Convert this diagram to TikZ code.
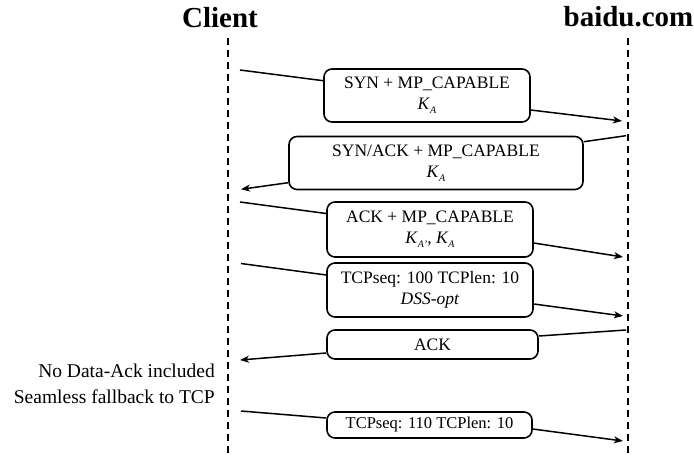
\documentclass[tikz,border=0pt]{standalone}
\usepackage{fontspec}
\setmainfont{Liberation Serif}
\usetikzlibrary{arrows.meta}
\newcommand{\subA}[1]{\raisebox{-0.5ex}{\fontsize{10}{10}\selectfont\textit{#1}}}
\newcommand{\KA}{\textit{K}\subA{A}}
\begin{document}
\begin{tikzpicture}[x=1pt,y=-1pt,
  msgbox/.style={draw,line width=1.6pt,rounded corners=8pt,inner sep=0pt,align=center,
    font=\fontsize{17.5}{22}\selectfont},
  msgline/.style={line width=1.5pt},
  msgarrow/.style={line width=1.5pt,-{Stealth[length=9pt,width=7pt,inset=2.5pt]}},
  life/.style={line width=1.8pt,dash pattern=on 7pt off 5pt},
  title/.style={font=\fontsize{29}{34}\selectfont\bfseries,anchor=base,inner sep=0pt},
  note/.style={font=\fontsize{19.5}{24}\selectfont,anchor=base east,inner sep=0pt}]
\path[use as bounding box] (0,0) rectangle (694,456);

% titles
\node[title] (client) at (220,27) {Client};
\node[title] (server) at (628.5,26.5) {baidu.com};

% lifelines
\coordinate (cTop) at (228,38);
\coordinate (cBot) at (228,456);
\coordinate (sTop) at (628,38);
\coordinate (sBot) at (628,456);
\draw[life] (cTop) -- (cBot);
\draw[life] (sTop) -- (sBot);

% boxes
\node[msgbox,minimum width=206pt,minimum height=53pt] (b1) at (427,95.5)
  {SYN + MP\_CAPABLE\\[-1pt]\KA};
\node[msgbox,minimum width=294pt,minimum height=53pt] (b2) at (436,163)
  {SYN/ACK + MP\_CAPABLE\\[-1pt]\KA};
\node[msgbox,minimum width=206pt,minimum height=55pt] (b3) at (430,229.5)
  {ACK + MP\_CAPABLE\\[-1pt]\textit{K}\subA{A}\subA{'}, \KA};
\node[msgbox,minimum width=206pt,minimum height=54pt] (b4) at (430,290)
  {TCPseq: 100 TCPlen: 10\\[-1pt]\textit{DSS-opt}};
\node[msgbox,minimum width=211pt,minimum height=29pt] (b5) at (432.5,344.5)
  {ACK};
\node[msgbox,minimum width=205pt,minimum height=26pt,font=\fontsize{16.5}{20}\selectfont] (b6) at (429.5,425)
  {TCPseq: 110 TCPlen: 10};

% side note
\node[note] (n1) at (215,377) {No Data-Ack included};
\node[note] (n2) at (215,403) {Seamless fallback to TCP};

% endpoints
\coordinate (s1) at (240,70);
\coordinate (e1) at (622,121);
\coordinate (s2) at (626,135.7);
\coordinate (e2) at (241,189.3);
\coordinate (s3) at (240,202);
\coordinate (e3) at (623,257);
\coordinate (s4) at (241,263.5);
\coordinate (e4) at (623,316);
\coordinate (s5) at (626,330);
\coordinate (e5) at (240,360);
\coordinate (s6) at (241,411);
\coordinate (e6) at (623,441);

% messages
\draw[msgline] (s1) -- ([yshift=14.8pt]b1.west);
\draw[msgarrow] ([yshift=-14.5pt]b1.east) -- (e1);
\draw[msgline] (s2) -- ([yshift=21.3pt]b2.east);
\draw[msgarrow] ([yshift=-19.7pt]b2.west) -- (e2);
\draw[msgline] (s3) -- ([yshift=16pt]b3.west);
\draw[msgarrow] ([yshift=-13.5pt]b3.east) -- (e3);
\draw[msgline] (s4) -- ([yshift=15pt]b4.west);
\draw[msgarrow] ([yshift=-14pt]b4.east) -- (e4);
\draw[msgline] (s5) -- ([yshift=8.5pt]b5.east);
\draw[msgarrow] ([yshift=-8.5pt]b5.west) -- (e5);
\draw[msgline] (s6) -- ([yshift=7pt]b6.west);
\draw[msgarrow] ([yshift=-4pt]b6.east) -- (e6);
\end{tikzpicture}
\end{document}
